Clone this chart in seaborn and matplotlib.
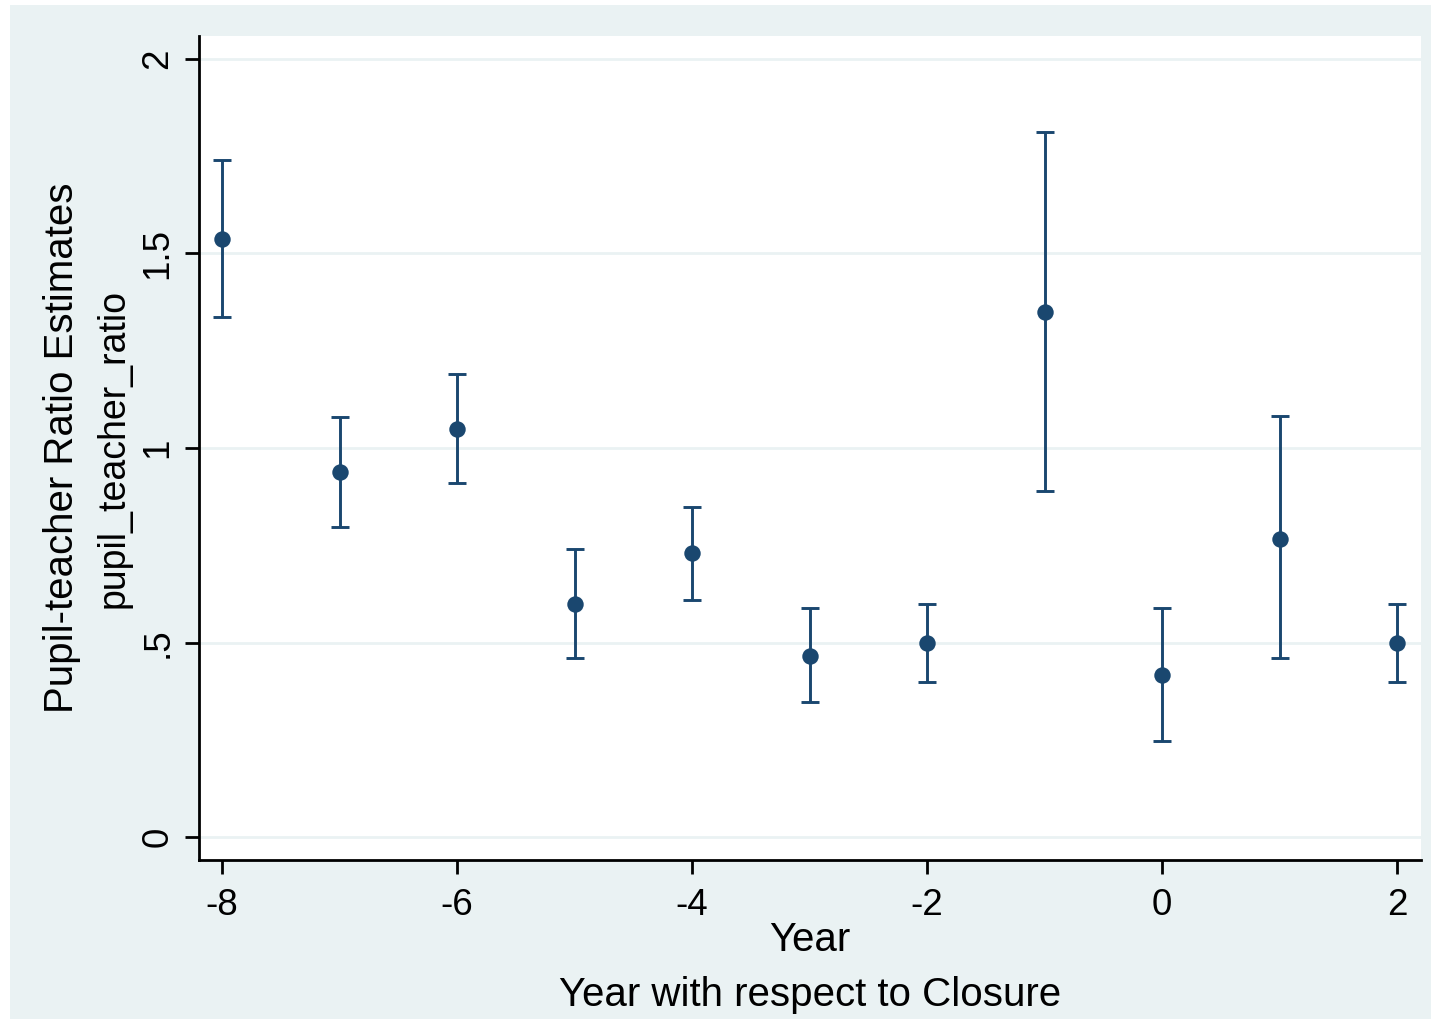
import matplotlib
matplotlib.use("Agg")
import matplotlib.pyplot as plt
import seaborn as sns
import numpy as np
import pandas as pd
from matplotlib.patches import Rectangle

years = [-8, -7, -6, -5, -4, -3, -2, -1, 0, 1, 2]
estimate = [1.537, 0.938, 1.049, 0.599, 0.730, 0.465, 0.499, 1.350, 0.416, 0.766, 0.499]
ci_upper = [1.740, 1.080, 1.190, 0.740, 0.848, 0.589, 0.599, 1.812, 0.589, 1.082, 0.599]
ci_lower = [1.337, 0.797, 0.910, 0.460, 0.609, 0.347, 0.398, 0.889, 0.247, 0.460, 0.398]
xticks = [-8, -6, -4, -2, 0, 2]
yticks = [0, 0.5, 1, 1.5, 2]
ytick_labels = ["0", ".5", "1", "1.5", "2"]

df = pd.DataFrame({"year": years, "est": estimate, "lo": ci_lower, "hi": ci_upper})

sns.set_theme(style="white")
plt.rcParams['font.family'] = ['Liberation Sans', 'DejaVu Sans']

navy = "#1A476F"
bg = "#EAF2F3"
fs = 29
tfs = 26.5

fig = plt.figure(figsize=(14.31, 10.19), dpi=100, facecolor="white")
fig.patches.append(Rectangle((10 / 1431, 0), 1 - 10 / 1431, (1019 - 5) / 1019,
                             transform=fig.transFigure, facecolor=bg, edgecolor="none", zorder=-10))
ax = fig.add_axes([199 / 1431, (1019 - 860) / 1019, (1421 - 199) / 1431, (860 - 36) / 1019])
ax.set_facecolor("white")

for y in yticks:
    ax.axhline(y, color=bg, lw=2, zorder=0)

ax.errorbar(df["year"], df["est"],
            yerr=[df["est"] - df["lo"], df["hi"] - df["est"]],
            fmt="none", ecolor=navy, elinewidth=2.1, capsize=6.5, capthick=2.1, zorder=2)
sns.scatterplot(data=df, x="year", y="est", ax=ax, color=navy, s=140,
                edgecolor=navy, linewidth=0, zorder=3, legend=False)

ax.set_xlim(-8.196, 2.204)
ax.set_ylim(-0.059, 2.059)
ax.set_xticks(xticks)
ax.set_xticklabels([str(t) for t in xticks])
ax.set_yticks(yticks)
ax.set_yticklabels(ytick_labels, rotation=90, va="center")

for s in ["top", "right"]:
    ax.spines[s].set_visible(False)
for s in ["left", "bottom"]:
    ax.spines[s].set_visible(True)
    ax.spines[s].set_color("black")
    ax.spines[s].set_linewidth(2)

ax.tick_params(axis="both", which="major", direction="out", length=10, width=2,
               color="black", labelsize=tfs, labelcolor="black", left=True, bottom=True)
ax.tick_params(axis="x", pad=10)
ax.tick_params(axis="y", pad=7)

ax.set_xlabel("")
ax.set_ylabel("")

cx = (199 + 1421) / 2 / 1431
cy = 1 - 448 / 1019
fig.text(cx, 1 - 940 / 1019, "Year", ha="center", va="center", fontsize=fs, color="black")
fig.text(cx, 1 - 995 / 1019, "Year with respect to Closure", ha="center", va="center",
         fontsize=fs, color="black")
fig.text(114 / 1431, cy, "pupil_teacher_ratio", ha="center", va="center", rotation=90,
         fontsize=27, color="black")
fig.text(62 / 1431, cy, "Pupil-teacher Ratio Estimates", ha="center", va="center", rotation=90,
         fontsize=fs, color="black")

fig.savefig("out.png", dpi=100, facecolor=fig.get_facecolor())
